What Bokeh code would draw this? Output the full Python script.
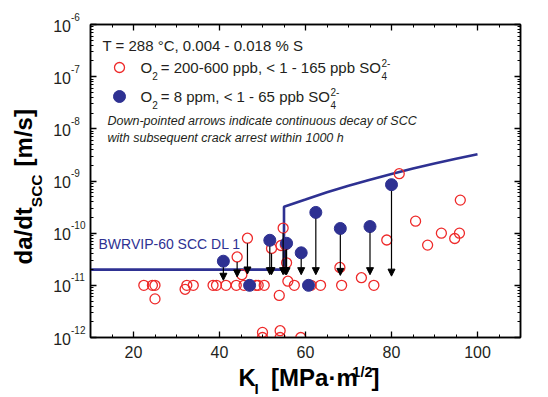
import math
from bokeh.plotting import figure
from bokeh.layouts import row, column
from bokeh.models import (Label, Arrow, NormalHead, ColumnDataSource, FixedTicker,
                          LinearAxis, LogAxis, CustomJSTickFormatter, Range1d)
from bokeh.embed import file_html
from bokeh.resources import INLINE

# ---------------- data ----------------
# O2 = 200-600 ppb (open red circles): K_I [MPa m^1/2], da/dt [m/s]
open_k = [22.4, 24.4, 25.0, 25.0, 32.0, 32.4, 33.9, 38.5, 39.3, 41.5, 43.9, 44.1,
          45.2, 45.7, 46.5, 48.5, 49.0, 50.4, 50.0, 50.0, 52.1, 53.9, 54.1, 54.1,
          54.3, 55.3, 54.8, 55.6, 55.9, 57.4, 58.9, 61.3, 63.5, 68.0, 68.4, 73.0,
          75.9, 78.9, 81.8, 85.6, 88.4, 91.6, 94.7, 95.8, 96.0]
open_v = [1.0e-11, 1.0e-11, 1.0e-11, 5.5e-12, 8.4e-12, 1.0e-11, 1.0e-11, 1.0e-11,
          1.0e-11, 1.0e-11, 1.0e-11, 3.5e-11, 1.6e-11, 1.0e-11, 8.0e-11, 1.0e-11,
          1.0e-11, 1.0e-11, 1.25e-12, 1.0e-12, 5.1e-11, 6.4e-12, 1.35e-12, 1.0e-12,
          5.8e-11, 6.0e-11, 1.25e-10, 2.7e-11, 1.2e-11, 1.0e-11, 1.0e-12, 1.0e-11,
          1.0e-11, 2.2e-11, 1.0e-11, 1.4e-11, 1.0e-11, 7.4e-11, 1.38e-9, 1.7e-10,
          5.9e-11, 1.0e-10, 7.9e-11, 1.0e-10, 4.3e-10]

# O2 = 8 ppm (filled blue circles)
filled_k = [40.9, 47.0, 51.7, 55.6, 59.0, 60.7, 62.4, 68.1, 75.0, 80.0]
filled_v = [2.9e-11, 1.0e-11, 7.3e-11, 6.4e-11, 4.2e-11, 1.0e-11, 2.5e-10,
            1.23e-10, 1.34e-10, 8.5e-10]

# down-pointed arrows (crack arrest): start point and arrow tip
arrow_k    = [40.9, 44.1, 46.5, 51.7, 52.1, 54.8, 55.3, 55.6, 59.0, 62.4, 68.1, 75.0, 80.0]
arrow_from = [2.9e-11, 3.5e-11, 8.0e-11, 7.3e-11, 5.1e-11, 1.25e-10, 6.0e-11, 6.4e-11,
              4.2e-11, 2.5e-10, 1.23e-10, 1.34e-10, 8.5e-10]
arrow_to   = [1.25e-11, 1.45e-11, 1.65e-11, 1.6e-11, 1.6e-11, 1.6e-11, 1.6e-11, 1.6e-11,
              1.6e-11, 1.6e-11, 1.55e-11, 1.6e-11, 1.5e-11]
arrow_filled = [True, False, False, True, False, False, False, True,
                True, True, True, True, True]

# BWRVIP-60 SCC disposition line 1
dl1_k = [10, 55, 55, 60, 65, 70, 75, 80, 85, 90, 95, 100]
dl1_v = [2.0e-11, 2.0e-11, 3.2e-10, 4.4e-10, 6.1e-10, 8.1e-10, 1.06e-9, 1.36e-9,
         1.73e-9, 2.16e-9, 2.66e-9, 3.25e-9]

x_ticks = [20, 40, 60, 80, 100]
x_tick_labels = ["20", "40", "60", "80", "100"]
y_exponents = [-12, -11, -10, -9, -8, -7, -6]
y_tick_base = "10"

# ---------------- layout constants ----------------
W, H = 548, 397
FL, FR, FT, FB = 90, 520, 24, 337      # plot frame in page pixels
LW = 86                                # left strip (y tick labels + y title)
MB = 27                                # space below frame for x tick labels
X0, X1 = 10, 110
Y0, Y1 = 1e-12, 1e-6
PPD = (FB - FT) / 6.0                  # pixels per decade
RED = "#ee2a2a"
BLUE = "#2e3192"
INK = "#231f20"
FONT = "Liberation Sans"

AR = {' ': 278, '%': 889, ',': 278, '-': 333, '.': 278, '/': 278, '<': 584, '=': 584,
      'O': 778, 'S': 667, 'b': 556, 'm': 833, 'p': 556, '°': 400, 'C': 722, 'T': 611}
AB = {' ': 278, '/': 278, '[': 333, ']': 333, 'a': 556, 'd': 611, 't': 333, 'm': 889,
      's': 556, 'M': 833, 'P': 667, 'K': 722, 'S': 667, 'C': 722, 'I': 278, '·': 278}


def tw(s, size, bold=False):
    t = AB if bold else AR
    return sum(t.get(c, 556) for c in s) * size / 1000.0


def lab(fig, x, y, txt, size, style="normal", color=INK, align="left",
        baseline="middle", angle=0.0, xo=0, yo=0):
    fig.add_layout(Label(x=x, y=y, x_offset=xo, y_offset=yo, text=txt,
                         text_font=FONT, text_font_size=f"{size}px",
                         text_font_style=style, text_color=color, text_align=align,
                         text_baseline=baseline, angle=angle))


# ================= main plot =================
MW, MH = W - LW, FB + MB
p = figure(width=MW, height=MH, x_range=Range1d(X0, X1), y_range=Range1d(Y0, Y1),
           y_axis_type="log", output_backend="svg", toolbar_location=None,
           min_border_left=FL - LW, min_border_right=W - FR, min_border_top=FT,
           min_border_bottom=MB, background_fill_color="white",
           border_fill_color="white")
p.xgrid.visible = False
p.ygrid.visible = False
p.outline_line_color = "black"
p.outline_line_width = 1.5

x_minor = [v for v in range(15, 110, 5) if v % 20 != 0]
y_major = [10.0 ** e for e in y_exponents]
y_minor = [m * 10.0 ** e for e in y_exponents[:-1] for m in range(2, 10)]

blank = CustomJSTickFormatter(code="return ''")


def style_axis(ax, ticker):
    ax.ticker = ticker
    ax.axis_line_color = "black"
    ax.axis_line_width = 1.5
    ax.major_tick_line_color = "black"
    ax.minor_tick_line_color = "black"
    ax.major_tick_line_width = 1.3
    ax.minor_tick_line_width = 1.0
    ax.major_tick_in = 6
    ax.major_tick_out = 0
    ax.minor_tick_in = 3
    ax.minor_tick_out = 0


xb = p.xaxis[0]
style_axis(xb, FixedTicker(ticks=x_ticks, minor_ticks=x_minor))
xb.major_label_overrides = {t: l for t, l in zip(x_ticks, x_tick_labels)}
xb.major_label_text_font = FONT
xb.major_label_text_font_size = "16px"
xb.major_label_text_color = INK
xb.major_label_standoff = 8

yl = p.yaxis[0]
style_axis(yl, FixedTicker(ticks=y_major, minor_ticks=y_minor))
yl.formatter = blank
yl.major_label_standoff = 0
yl.major_label_text_font_size = "1px"

xt = LinearAxis(formatter=blank, major_label_standoff=0, major_label_text_font_size="1px")
style_axis(xt, FixedTicker(ticks=x_ticks, minor_ticks=x_minor))
p.add_layout(xt, "above")
yr = LogAxis(formatter=blank, major_label_standoff=0, major_label_text_font_size="1px")
style_axis(yr, FixedTicker(ticks=y_major, minor_ticks=y_minor))
p.add_layout(yr, "right")

# marks
p.line(dl1_k, dl1_v, line_color=BLUE, line_width=2.6)
p.scatter(open_k, open_v, marker="circle", size=10, fill_color=None,
          line_color=RED, line_width=1.3)
p.scatter(filled_k, filled_v, marker="circle", size=12, fill_color=BLUE,
          line_color=BLUE, line_width=1)

start = [v / 10 ** ((6.0 if f else 5.0) / PPD) for v, f in zip(arrow_from, arrow_filled)]
asrc = ColumnDataSource(dict(x=arrow_k, y0=start, y1=arrow_to))
p.add_layout(Arrow(end=NormalHead(size=7, fill_color="black", line_color="black",
                                  line_width=1),
                   x_start="x", y_start="y0", x_end="x", y_end="y1", source=asrc,
                   line_color="black", line_width=1.2))


# in-frame texts are placed at the frame's top-left corner plus pixel offsets
def ptext(sx, sy, txt, size, **kw):
    lab(p, X0, Y1, txt, size, xo=sx - FL, yo=FT - sy, **kw)


def pkey(sx, sy, **kw):
    x = X0 + (sx - FL) / (FR - FL) * (X1 - X0)
    y = 10 ** (math.log10(Y1) - (sy - FT) / PPD)
    p.scatter([x], [y], marker="circle", **kw)


pkey(119, 67, size=10, fill_color=None, line_color=RED, line_width=1.3)
pkey(119, 96, size=12, fill_color=BLUE, line_color=BLUE)

ptext(102, 45, "T = 288 °C, 0.004 - 0.018 % S", 15)


def o2_line(yc, body):
    x = 140
    ptext(x, yc, "O", 15)
    x += tw("O", 15)
    ptext(x, yc + 8, "2", 10)
    x += tw("2", 10) + 3
    ptext(x, yc, body, 15)
    x += tw(body, 15) + 0.5
    ptext(x, yc - 5, "2-", 10)
    ptext(x, yc + 8, "4", 10)


o2_line(67, "= 200-600 ppb, < 1 - 165 ppb SO")
o2_line(96, "= 8 ppm, < 1 - 65 ppb SO")

ptext(107, 120, "Down-pointed arrows indicate continuous decay of SCC", 12.5, style="italic")
ptext(107, 137, "with subsequent crack arrest within 1000 h", 12.5, style="italic")
ptext(98, 243, "BWRVIP-60 SCC DL 1", 14, color=BLUE)

# ================= left strip: y tick labels and y title =================
ly_lo = 10 ** (math.log10(Y0) - (H - FB) / PPD)
ly_hi = 10 ** (math.log10(Y1) + FT / PPD)
L = figure(width=LW, height=H, x_range=Range1d(0, LW), y_range=Range1d(ly_lo, ly_hi),
           y_axis_type="log", x_axis_location=None, y_axis_location=None,
           output_backend="svg", toolbar_location=None, min_border=0,
           outline_line_color=None, background_fill_color="white",
           border_fill_color="white")
L.grid.visible = False
for e in y_exponents:
    lab(L, 70.5, 10.0 ** e, y_tick_base, 16, align="right", yo=-1)
    lab(L, 70.5, 10.0 ** e, str(e), 10, yo=8)


def ltext(sx, sy, txt, size, **kw):
    lab(L, 0, ly_hi, txt, size, xo=sx, yo=-sy, **kw)


F = 24
FS = 15.5
ang = math.pi / 2
sy = 264
ltext(23, sy, "da/dt", F, style="bold", color="black", angle=ang)
sy -= tw("da/dt", F, True)
ltext(36, sy, "SCC", FS, style="bold", color="black", angle=ang)
sy -= tw("SCC", FS, True) + 8
ltext(23, sy, "[m/s]", F, style="bold", color="black", angle=ang)

# ================= bottom strip: x title =================
B = figure(width=MW, height=H - MH, x_range=Range1d(LW, W), y_range=Range1d(H, MH),
           x_axis_location=None, y_axis_location=None, output_backend="svg",
           toolbar_location=None, min_border=0, outline_line_color=None,
           background_fill_color="white", border_fill_color="white")
B.grid.visible = False
sx = 245
lab(B, sx, 377, "K", F, style="bold", color="black")
sx += tw("K", F, True)
lab(B, sx, 388, "I", 15, style="bold", color="black")
sx = 280
lab(B, sx, 377, "[MPa·m", F, style="bold", color="black")
sx += tw("[MPa·m", F, True) + 2
lab(B, sx, 371, "1/2", 14.5, style="bold", color="black")
sx += tw("1/2", 14.5, True) + 0.5
lab(B, sx, 377, "]", F, style="bold", color="black")

layout = row(L, column(p, B, spacing=0), spacing=0)
open("out.html", "w").write(file_html(layout, INLINE))
